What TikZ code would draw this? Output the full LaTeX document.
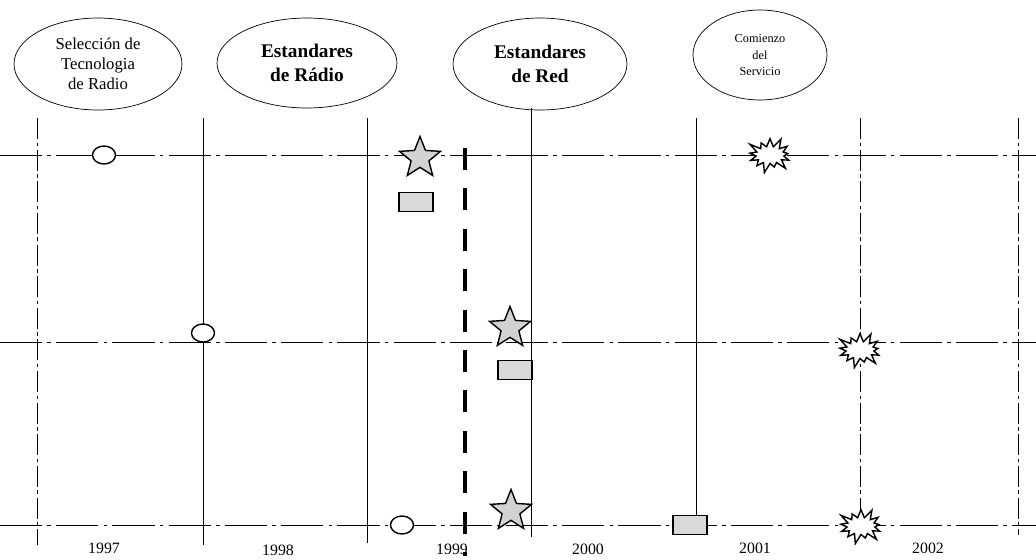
\documentclass[tikz,border=0pt]{standalone}
\usepackage{fontspec}
\setmainfont{Liberation Serif}
\usetikzlibrary{shapes.geometric, shapes.symbols, positioning}

\begin{document}
\begin{tikzpicture}[
    x=0.02cm, y=-0.02cm,
    phase/.style={ellipse, draw, thin, inner sep=0pt, align=center},
    yearline/.style={thin},
    faintline/.style={thin, dash pattern=on 12pt off 2pt on 2pt off 2pt},
    gridline/.style={thin, dash pattern=on 24pt off 3pt on 2pt off 3pt},
    cutline/.style={line width=2.4pt, dash pattern=on 12.5pt off 10.5pt},
    milestone/.style={ellipse, draw, thick, fill=white, minimum width=0.46cm, minimum height=0.36cm, inner sep=0pt},
    starmark/.style={star, star points=5, star point ratio=2.3, draw, thick, fill=gray!35, minimum size=0.86cm, inner sep=0pt},
    burst/.style={starburst, starburst points=13, starburst point height=0.22cm, draw, thick, fill=white, minimum width=1.0cm, minimum height=0.78cm, inner sep=0pt},
    docmark/.style={rectangle, draw, thick, fill=gray!30, minimum width=0.68cm, minimum height=0.38cm, inner sep=0pt},
    year/.style={font=\fontsize{9}{10}\selectfont}
]
    \useasboundingbox (0,0) rectangle (1036,559);

    % Phases
    \node[phase, minimum width=3.36cm, minimum height=1.84cm, font=\fontsize{9.5}{11.3}\selectfont] (tech) at (98,64) {Selección de\\Tecnologia\\de Radio};
    \node[phase, minimum width=3.6cm, minimum height=1.8cm, font=\fontsize{11}{13.6}\selectfont\bfseries] (radio) at (307,63) {Estandares\\de Rádio};
    \node[phase, minimum width=3.48cm, minimum height=1.84cm, font=\fontsize{11}{13.6}\selectfont\bfseries] (red) at (540,64) {Estandares\\de Red};
    \node[phase, minimum width=2.68cm, minimum height=1.8cm, font=\fontsize{7}{9.6}\selectfont] (serv) at (760,55) {Comienzo\\del\\Servicio};

    % Year boundaries
    \draw[faintline] (37,118) coordinate (b0t) -- (37,545) coordinate (b0b);
    \draw[yearline] (203,118) coordinate (b1t) -- (203,545) coordinate (b1b);
    \draw[yearline] (367,118) coordinate (b2t) -- (367,543) coordinate (b2b);
    \draw[yearline] (531,108) coordinate (b3t) -- (531,537) coordinate (b3b);
    \draw[yearline] (696,118) coordinate (b4t) -- (696,517) coordinate (b4b);
    \draw[faintline] (860,118) coordinate (b5t) -- (860,515) coordinate (b5b);
    \draw[faintline] (1018,118) coordinate (b6t) -- (1018,535) coordinate (b6b);

    % Tracks
    \draw[gridline] (0,155) coordinate (t1w) -- (1036,155) coordinate (t1e);
    \draw[gridline] (0,342) coordinate (t2w) -- (1036,342) coordinate (t2e);
    \draw[gridline] (0,525) coordinate (t3w) -- (1036,525) coordinate (t3e);

    % Marks, track 1
    \node[milestone] (m1) at (104,155) {};
    \node[starmark] (s1) at (420,158) {};
    \node[docmark] (d1) at (416,202) {};
    \node[burst] (x1) at (770,155) {};

    % Marks, track 2
    \node[milestone] (m2) at (203,333) {};
    \node[starmark] (s2) at (510,328) {};
    \node[docmark] (d2) at (515,370) {};
    \node[burst] (x2) at (860,350) {};

    % Marks, track 3
    \node[milestone] (m3) at (402,525) {};
    \node[starmark] (s3) at (511,511) {};
    \node[docmark] (d3) at (690,525) {};
    \node[burst] (x3) at (861,526) {};

    % Years
    \node[year] (y97) at (104,548) {1997};
    \node[year] (y98) at (278,550) {1998};
    \node[year] (y99) at (452,549) {1999};
    \node[year] (y00) at (588,549) {2000};
    \node[year] (y01) at (755,548) {2001};
    \node[year] (y02) at (928,548) {2002};

    % Cut-off
    \draw[cutline] (465,148) coordinate (cutt) -- (465,556) coordinate (cutb);
\end{tikzpicture}
\end{document}
